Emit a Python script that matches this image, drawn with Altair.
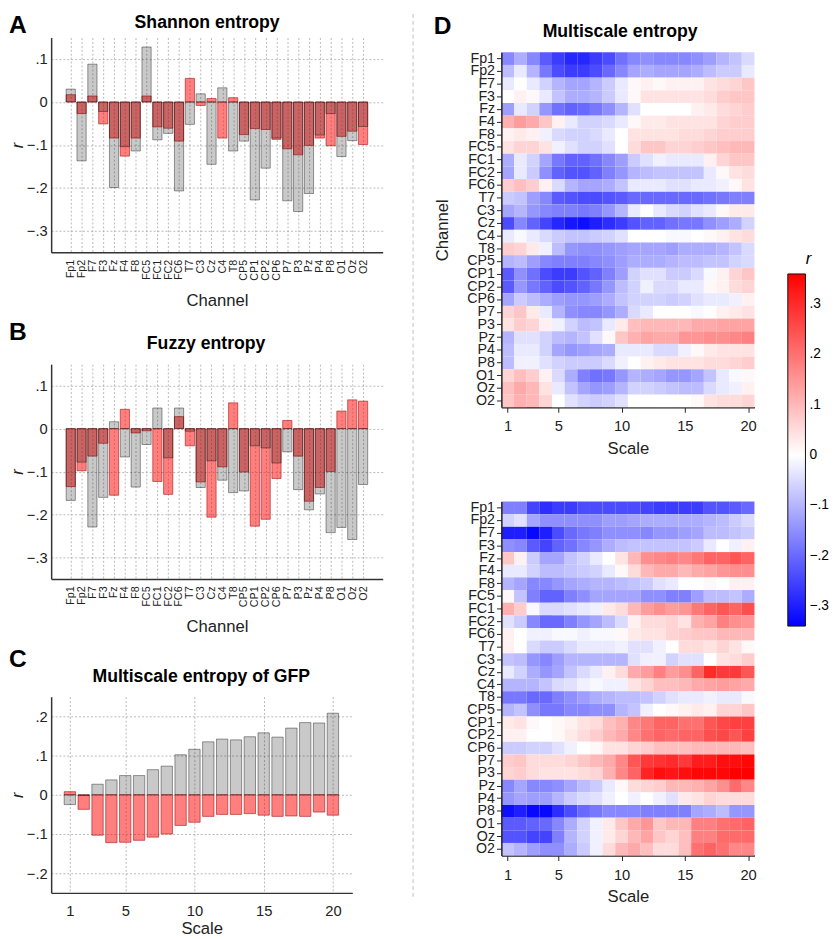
import altair as alt
import pandas as pd

FONT = "Liberation Sans"

channels = ["Fp1", "Fp2", "F7", "F3", "Fz", "F4", "F8", "FC5", "FC1", "FC2", "FC6", "T7", "C3", "Cz",
            "C4", "T8", "CP5", "CP1", "CP2", "CP6", "P7", "P3", "Pz", "P4", "P8", "O1", "Oz", "O2"]

# Panel A: Shannon entropy
shannon_gray = [0.030, -0.137, 0.088, -0.022, -0.199, -0.104, -0.114, 0.128, -0.088, -0.073, -0.207, -0.052, 0.019, -0.145,
                0.033, -0.114, -0.091, -0.228, -0.154, -0.084, -0.230, -0.255, -0.213, -0.077, -0.027, -0.127, -0.090, -0.057]
shannon_red = [0.017, -0.027, 0.014, -0.051, -0.084, -0.126, -0.084, 0.014, -0.058, -0.061, -0.091, 0.055, -0.008, 0.008,
               -0.084, 0.010, -0.076, -0.062, -0.064, -0.087, -0.109, -0.123, -0.101, -0.084, -0.102, -0.080, -0.068, -0.099]

# Panel B: Fuzzy entropy
fuzzy_gray = [-0.167, -0.078, -0.229, -0.160, 0.016, -0.066, -0.136, -0.037, 0.048, -0.068, 0.048, -0.006, -0.137, -0.075,
              -0.120, -0.149, -0.145, -0.040, -0.045, -0.080, -0.054, -0.142, -0.189, -0.152, -0.242, -0.230, -0.258, -0.130]
fuzzy_red = [-0.135, -0.098, -0.064, -0.034, -0.155, 0.045, -0.010, -0.005, -0.123, -0.153, 0.028, -0.040, -0.124, -0.206,
             -0.089, 0.060, -0.101, -0.227, -0.211, -0.116, 0.019, -0.064, -0.169, -0.137, -0.100, 0.041, 0.067, 0.064]

# Panel C: Multiscale entropy of GFP
scales = list(range(1, 21))
gfp_gray = [-0.025, -0.002, 0.027, 0.038, 0.049, 0.049, 0.064, 0.073, 0.102, 0.116,
            0.135, 0.142, 0.140, 0.148, 0.158, 0.147, 0.170, 0.184, 0.183, 0.208]
gfp_red = [0.008, -0.037, -0.103, -0.122, -0.121, -0.116, -0.108, -0.100, -0.078, -0.070,
           -0.055, -0.050, -0.050, -0.048, -0.052, -0.055, -0.054, -0.055, -0.044, -0.052]

# Panel D (top): r x 100, rows = channels, columns = scale 1..20
mse_top = [
    [-16, -11, -16, -22, -26, -29, -29, -26, -24, -19, -16, -15, -16, -16, -16, -15, -13, -10, -8, -5],
    [-9, -3, -10, -18, -24, -26, -26, -24, -20, -16, -12, -11, -12, -12, -12, -11, -9, -7, -7, -3],
    [-3, 0, -3, -6, -10, -12, -12, -10, -7, -3, 1, 2, 1, 2, 2, 2, 4, 5, 6, 8],
    [0, 2, 1, -3, -8, -11, -11, -10, -7, -3, 1, 4, 4, 4, 4, 4, 5, 7, 8, 8],
    [-13, -3, -6, -14, -19, -21, -20, -18, -15, -10, -4, 0, 0, 0, 0, 2, 3, 5, 6, 7],
    [11, 14, 12, 8, 2, -3, -6, -6, -5, -3, 1, 3, 3, 4, 4, 4, 4, 6, 7, 7],
    [2, 3, 2, -2, -5, -6, -6, -5, -3, 0, 4, 4, 4, 4, 5, 5, 6, 7, 7, 7],
    [4, 6, 6, 4, -2, -4, -6, -6, -4, 0, 5, 8, 8, 6, 6, 7, 8, 9, 10, 10],
    [-11, -3, -6, -12, -18, -21, -21, -19, -16, -13, -7, -4, -2, -3, -3, -3, 2, 6, 8, 8],
    [-12, -3, -7, -15, -21, -23, -23, -21, -17, -14, -10, -9, -8, -8, -8, -8, -3, 1, 4, 5],
    [7, 9, 7, 2, -5, -10, -12, -12, -11, -8, -3, -3, -3, -4, -4, -3, -3, -2, 1, 4],
    [-7, -8, -13, -16, -22, -23, -24, -24, -23, -22, -20, -20, -20, -20, -20, -20, -19, -18, -17, -17],
    [-12, -10, -14, -16, -17, -17, -18, -17, -14, -10, -3, 0, -3, -5, -6, -4, -3, 1, 3, 3],
    [-24, -16, -21, -25, -29, -31, -32, -30, -28, -26, -23, -21, -21, -19, -18, -18, -15, -13, -11, -6],
    [-3, -1, -3, -5, -7, -8, -8, -7, -6, -4, 0, 0, 0, -1, -1, 0, 1, 2, 4, 5],
    [7, 6, 3, -2, -9, -14, -15, -15, -14, -13, -12, -12, -12, -13, -11, -11, -11, -10, -8, -5],
    [-10, -9, -13, -16, -17, -17, -17, -16, -15, -13, -11, -11, -11, -10, -9, -9, -8, -8, -6, -5],
    [-22, -15, -19, -24, -26, -26, -23, -21, -17, -13, -6, -4, -4, -7, -7, -5, -1, 2, 6, 8],
    [-22, -14, -18, -21, -24, -23, -21, -18, -14, -9, -6, -2, -5, -5, -3, -3, 1, 2, 5, 6],
    [-12, -7, -9, -11, -13, -14, -14, -13, -11, -8, -6, -6, -6, -7, -6, -4, -3, -3, -2, 2],
    [6, 8, 3, -3, -10, -15, -16, -16, -14, -11, -5, -3, 0, 0, 0, -1, 0, 2, 3, 4],
    [4, 7, 6, 2, -2, -6, -9, -8, -3, 3, 9, 10, 10, 10, 10, 12, 12, 13, 13, 13],
    [-10, -4, -4, -6, -9, -10, -8, -4, 1, 8, 11, 13, 12, 12, 15, 15, 16, 16, 17, 18],
    [-9, -3, -3, -6, -12, -14, -13, -12, -11, -3, -3, -3, -5, -5, -2, 1, 3, 4, 4, 4],
    [-9, -2, -2, -4, -6, -7, -7, -7, -5, -2, 0, 2, 3, 4, 4, 4, 5, 5, 6, 7],
    [6, 9, 7, 2, -5, -11, -17, -19, -18, -14, -10, -11, -12, -14, -14, -12, -8, -3, -1, 1],
    [9, 12, 10, 4, -3, -8, -12, -14, -13, -10, -6, -6, -7, -8, -9, -9, -5, -3, -2, 2],
    [8, 11, 10, 6, 0, -4, -6, -7, -6, -4, 0, 0, 0, 0, 0, 1, 4, 5, 5, 6],
]

# Panel D (bottom)
mse_bottom = [
    [-17, -17, -25, -28, -26, -26, -24, -24, -24, -24, -24, -25, -26, -26, -26, -26, -23, -23, -22, -20],
    [-6, -4, -12, -15, -15, -15, -15, -15, -13, -13, -12, -11, -11, -11, -11, -11, -10, -9, -7, -5],
    [-30, -30, -33, -30, -24, -20, -18, -17, -15, -15, -15, -16, -14, -14, -13, -12, -9, -9, -8, -7],
    [-15, -16, -22, -25, -21, -19, -16, -14, -11, -9, -8, -8, -8, -8, -8, -7, -3, 0, -2, 2],
    [8, 2, -7, -12, -12, -8, -6, -3, 0, 4, 10, 16, 17, 18, 17, 19, 22, 22, 24, 22],
    [-3, -3, -6, -9, -9, -8, -7, -6, -3, 1, 5, 10, 12, 12, 10, 12, 13, 15, 16, 16],
    [-10, -12, -16, -16, -14, -12, -11, -10, -10, -9, -8, -7, -4, -3, 0, 0, 1, 0, 2, 2],
    [1, -8, -17, -21, -21, -17, -15, -12, -12, -12, -12, -15, -15, -17, -17, -13, -9, -9, -8, -11],
    [11, 7, -1, -5, -5, -4, -3, -2, 3, 5, 10, 14, 16, 14, 15, 19, 22, 24, 22, 25],
    [-4, -7, -16, -20, -20, -17, -14, -12, -9, -5, 2, 5, 5, 6, 4, 11, 13, 18, 16, 15],
    [2, 0, -2, -2, -1, -1, -2, -1, -1, 1, 3, 4, 4, 6, 7, 8, 8, 10, 10, 10],
    [2, 0, -5, -7, -7, -5, -3, -3, -3, -2, -4, -4, -2, 0, 5, 5, 4, 6, 4, 1],
    [-8, -9, -14, -16, -13, -10, -10, -10, -10, -10, -4, -2, -2, -6, -4, -4, 0, 4, 5, 7],
    [-3, -6, -11, -14, -12, -8, -5, -3, 2, 5, 12, 14, 18, 14, 16, 22, 30, 28, 28, 24],
    [-10, -10, -10, -8, -5, -4, -2, -1, -2, -2, 4, 6, 9, 9, 10, 12, 13, 14, 13, 12],
    [-18, -18, -20, -20, -17, -15, -13, -11, -10, -9, -9, -8, -6, -4, -3, -3, -2, -3, -3, -1],
    [-10, -8, -15, -18, -18, -16, -16, -15, -15, -10, -8, -2, 0, 1, 2, 3, 2, 6, 6, 8],
    [3, 4, 1, 0, 1, 2, 4, 5, 9, 11, 17, 19, 22, 22, 20, 20, 24, 26, 27, 27],
    [2, 2, 0, 0, 1, 3, 5, 7, 10, 12, 17, 20, 22, 21, 22, 22, 25, 26, 24, 27],
    [-7, -7, -6, -6, -4, -2, 0, 1, 4, 4, 6, 7, 9, 9, 9, 10, 10, 10, 10, 9],
    [7, 8, 5, 5, 5, 6, 8, 10, 12, 17, 24, 28, 29, 30, 28, 32, 32, 34, 34, 35],
    [6, 7, 5, 4, 4, 4, 5, 6, 11, 17, 22, 31, 34, 33, 34, 35, 35, 35, 36, 36],
    [-16, -12, -16, -16, -15, -12, -9, -7, -3, 1, 5, 6, 7, 10, 10, 11, 13, 16, 21, 17],
    [-14, -12, -13, -13, -10, -7, -5, -4, -2, 0, -2, 0, -2, -4, 3, 4, 6, 5, 5, 5],
    [-32, -30, -33, -33, -28, -24, -20, -18, -16, -16, -16, -17, -17, -17, -17, -12, -11, -9, -14, -14],
    [-22, -22, -21, -20, -16, -11, -6, -2, 3, 8, 12, 15, 8, 10, 10, 18, 18, 20, 21, 22],
    [-23, -23, -25, -25, -17, -10, -6, -2, 3, 6, 10, 13, 8, 6, 9, 18, 18, 21, 21, 21],
    [-8, -10, -13, -15, -15, -11, -7, -2, 5, 10, 12, 9, 5, 5, 9, 20, 22, 20, 17, 17],
]

bar_ticks = [-0.3, -0.2, -0.1, 0, 0.1]
gfp_ticks = [-0.2, -0.1, 0, 0.1, 0.2]
scale_ticks = [1, 5, 10, 15, 20]
legend_ticks = [-0.3, -0.2, -0.1, 0, 0.1, 0.2, 0.3]

LBL = "datum.value == 0 ? '0' : replace(format(datum.value, '.1f'), '0.', '.')"
CH_LBL = "[" + ",".join("'%s'" % c for c in channels) + "][datum.value]"

RED_BAR = dict(fill="#ff0000", fillOpacity=0.5, stroke="#a00000", strokeOpacity=0.55, strokeWidth=1)
GRAY_BAR = dict(fill="#000000", fillOpacity=0.21, stroke="#000000", strokeOpacity=0.4, strokeWidth=1)


def text_layer(txt, x, y, size, align="center", baseline="middle"):
    return alt.Chart(pd.DataFrame({"t": [txt]})).mark_text(
        fontSize=size, fontWeight="bold", align=align, baseline=baseline, color="#000"
    ).encode(text="t:N", x=alt.value(x), y=alt.value(y))


def spacer(h):
    return alt.Chart(pd.DataFrame({"a": [0]})).mark_point(opacity=0).encode(
        x=alt.value(0), y=alt.value(0)).properties(width=1, height=h)


def channel_bars(gray, red, title, letter, title_x, title_y, letter_y, x_title_pad):
    df = pd.DataFrame({"idx": list(range(len(channels))), "ch": channels, "gray": gray, "red": red})
    base = alt.Chart(df).transform_calculate(x1="datum.idx - 0.425", x2="datum.idx + 0.425")
    xenc = alt.X("x1:Q", scale=alt.Scale(domain=[-1.81, 28.81], nice=False, zero=False),
                 axis=alt.Axis(title="Channel", values=list(range(len(channels))), labelExpr=CH_LBL,
                               labelAngle=-90, ticks=False, grid=True, labelFlush=False,
                               labelPadding=7, labelFontSize=11, titleFontSize=17, titlePadding=x_title_pad,
                               labelOverlap=False, labelAlign="right", labelBaseline="middle"))
    yscale = alt.Scale(domain=[-0.35, 0.15], nice=False, zero=False)
    yax = alt.Axis(title="r", values=bar_ticks, labelExpr=LBL, ticks=False, grid=True,
                   labelFontSize=15, labelPadding=4, titleFontSize=17, titleFontStyle="italic",
                   titlePadding=0)
    red_l = base.mark_bar(**RED_BAR).encode(
        x=xenc, x2="x2:Q", y=alt.Y("red:Q", scale=yscale, axis=yax), y2=alt.datum(0))
    gray_l = base.mark_bar(**GRAY_BAR).encode(
        x=xenc, x2="x2:Q", y=alt.Y("gray:Q", scale=yscale, axis=yax), y2=alt.datum(0))
    return alt.layer(
        red_l, gray_l,
        text_layer(title, title_x, title_y, 18),
        text_layer(letter, -43, letter_y, 25, align="left", baseline="top"),
    ).properties(width=338, height=219)


panel_a = channel_bars(shannon_gray, shannon_red, "Shannon entropy", "A", 159, -15, -25, 13)
panel_b = channel_bars(fuzzy_gray, fuzzy_red, "Fuzzy entropy", "B", 158, -20, -45, 12)

# Panel C
df_c = pd.DataFrame({"scale": scales, "gray": gfp_gray, "red": gfp_red})
xc = alt.X("x1:Q", scale=alt.Scale(domain=[-0.35, 21.4], nice=False, zero=False),
           axis=alt.Axis(title="Scale", values=scale_ticks, ticks=False, grid=True, labelFontSize=15,
                         labelPadding=11, titleFontSize=17, titlePadding=2, labelFlush=False))
yc_scale = alt.Scale(domain=[-0.25, 0.25], nice=False, zero=False)
yc_ax = alt.Axis(title="r", values=gfp_ticks, labelExpr=LBL, ticks=False, grid=True, labelFontSize=15,
                 labelPadding=4, titleFontSize=17, titleFontStyle="italic", titlePadding=0)
base_c = alt.Chart(df_c).transform_calculate(x1="datum.scale - 0.41", x2="datum.scale + 0.41")
c_red = base_c.mark_bar(**RED_BAR).encode(x=xc, x2="x2:Q", y=alt.Y("red:Q", scale=yc_scale, axis=yc_ax),
                                          y2=alt.datum(0))
c_gray = base_c.mark_bar(**GRAY_BAR).encode(x=xc, x2="x2:Q", y=alt.Y("gray:Q", scale=yc_scale, axis=yc_ax),
                                            y2=alt.datum(0))
panel_c = alt.layer(
    c_red, c_gray,
    text_layer("Multiscale entropy of GFP", 153, -20, 18),
    text_layer("C", -43, -50, 25, align="left", baseline="top"),
).properties(width=307, height=200)

color_scale = alt.Scale(domain=[-0.34, 0, 0.36], range=["#0000ff", "#ffffff", "#ff0000"], interpolate="rgb")
color_legend = alt.Legend(title="r", orient="none", legendX=751, legendY=218, direction="vertical",
                          gradientLength=359, gradientThickness=18, values=legend_ticks, labelExpr=LBL,
                          titleFontStyle="italic", titleFontWeight="normal", titleFontSize=17,
                          labelFontSize=14, gradientStrokeColor="#111111", gradientStrokeWidth=1,
                          titleAnchor="middle", titlePadding=6, labelOffset=4)


def heatmap(rows, ytitle):
    recs = [{"ch": ch, "scale": j + 1, "v": rows[i][j] / 100.0}
            for i, ch in enumerate(channels) for j in range(len(rows[i]))]
    base = alt.Chart(pd.DataFrame(recs)).transform_calculate(
        x1="datum.scale - 0.5", x2="datum.scale + 0.5")
    yaxis_kw = dict(labelFontSize=14.5, tickSize=5, labelPadding=2, labelOverlap=False, domainColor="#222",
                    tickColor="#222", grid=False)
    if ytitle:
        yaxis_kw.update(title="Channel", titleFontSize=17, titlePadding=16)
    else:
        yaxis_kw.update(title=None)
    return base.mark_rect().encode(
        x=alt.X("x1:Q", scale=alt.Scale(domain=[0.5, 20.5], nice=False, zero=False),
                axis=alt.Axis(title="Scale", values=scale_ticks, grid=False, tickSize=5, labelFontSize=15,
                              labelPadding=7, titleFontSize=17, titlePadding=7, labelFlush=False,
                              domainColor="#222", tickColor="#222")),
        x2="x2:Q",
        y=alt.Y("ch:N", sort=channels, scale=alt.Scale(paddingInner=0, paddingOuter=0),
                axis=alt.Axis(**yaxis_kw)),
        color=alt.Color("v:Q", scale=color_scale, legend=color_legend),
    )


sep = alt.Chart(pd.DataFrame({"a": [0]})).mark_rule(color="#c0c0c0", strokeDash=[4, 3], strokeWidth=1).encode(
    x=alt.value(-90), y=alt.value(-39), y2=alt.value(864))

panel_d1 = alt.layer(
    heatmap(mse_top, True),
    text_layer("Multiscale entropy", 121, -21, 18),
    text_layer("D", -69, -39, 25, align="left", baseline="top"),
    sep,
).properties(width=258, height=362)

panel_d2 = heatmap(mse_bottom, False).properties(width=258, height=361)

left = alt.vconcat(panel_a, spacer(104), panel_b, spacer(110), panel_c, spacing=5, bounds="flush")
right = alt.vconcat(spacer(10), panel_d1, spacer(86), panel_d2, spacing=5, bounds="flush")

chart = alt.hconcat(left, right, spacing=30,
                    padding={"top": -4, "left": 0, "right": 0, "bottom": 0}).configure(font=FONT).configure_view(
    stroke=None
).configure_axis(
    labelColor="#222", titleColor="#222", domainColor="#333", domainWidth=1.5,
    gridColor="#9a9a9a", gridDash=[2, 2], gridWidth=0.7, titleFontWeight="normal"
)

chart.save("out.html", embed_options={"renderer": "svg", "actions": False})
